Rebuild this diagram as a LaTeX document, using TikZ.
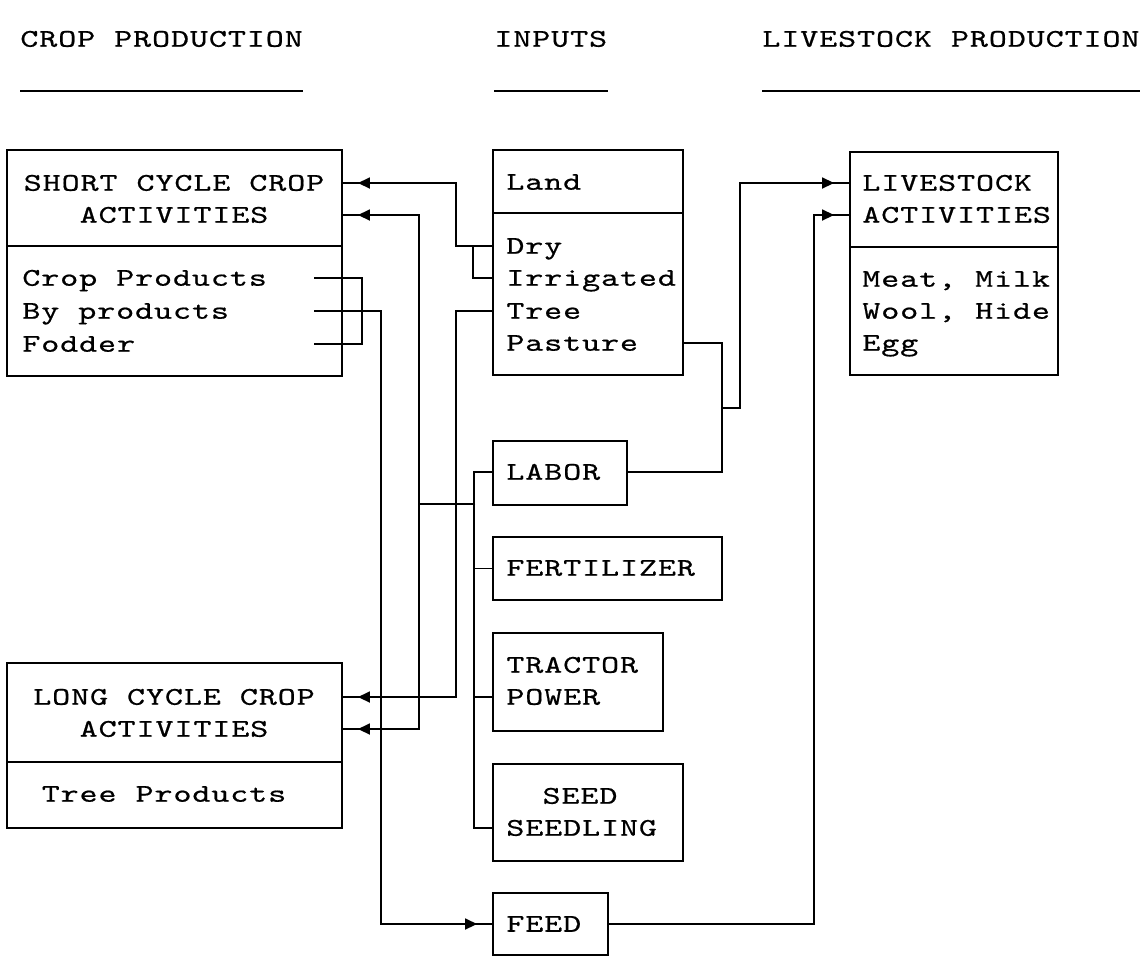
\documentclass[tikz,border=0pt]{standalone}
\usepackage{fontspec}
\setmonofont{lmmono10-regular.otf}[FakeStretch=1.35,LetterSpace=3.5,FakeBold=0.6]
\usetikzlibrary{arrows.meta,decorations.markings,fit,calc}

\tikzset{
  box/.style={draw, line width=1.1pt, inner sep=0pt},
  txt/.style={inner sep=0pt, text height=8.8pt, text depth=0pt,
    font=\ttfamily\fontsize{14.5}{18}\selectfont},
  line/.style={line width=1pt},
  arr/.style={line, postaction={decorate}, decoration={markings,
    mark=at position -0.3cm with {\arrow{Triangle[length=0.24cm,width=0.22cm]}}}},
}

\begin{document}
\begin{tikzpicture}[x=0.02cm, y=-0.02cm]
  \useasboundingbox (0,0) rectangle (1148,957);
  % headings
  \node[txt, anchor=west] (hcrop) at (20,39) {CROP PRODUCTION};
  \node[txt, anchor=west] (hin) at (494,39) {INPUTS};
  \node[txt, anchor=west] (hlive) at (762,39) {LIVESTOCK PRODUCTION};
  \foreach \h in {hcrop,hin,hlive}
    \draw[line] ([yshift=-1.04cm]\h.west) -- ([yshift=-1.04cm]\h.east);

  % crop production
  \node[box, fit={(7,150) (342,246)}] (sc) {};
  \node[box, fit={(7,246) (342,376)}] (scb) {};
  \node[txt] (scl1) at (174,183) {SHORT CYCLE CROP};
  \node[txt] (scl2) at (174,215) {ACTIVITIES};
  \node[txt, anchor=west] (cprod) at (22,278) {Crop Products};
  \node[txt, anchor=west] (byprod) at (22,311) {By products};
  \node[txt, anchor=west] (fodder) at (22,344) {Fodder};

  \node[box, fit={(7,663) (342,762)}] (lc) {};
  \node[box, fit={(7,762) (342,828)}] (lcb) {};
  \node[txt] (lcl1) at (174,697) {LONG CYCLE CROP};
  \node[txt] (lcl2) at (174,729) {ACTIVITIES};
  \node[txt] (treep) at (164,794) {Tree Products};

  % inputs
  \node[box, fit={(493,150) (683,213)}] (land) {};
  \node[box, fit={(493,213) (683,375)}] (landb) {};
  \node[txt, anchor=west] (landl) at (506,182) {Land};
  \node[txt, anchor=west] (dry) at (506,246) {Dry};
  \node[txt, anchor=west] (irr) at (506,278) {Irrigated};
  \node[txt, anchor=west] (tree) at (506,311) {Tree};
  \node[txt, anchor=west] (past) at (506,343) {Pasture};
  \node[box, fit={(493,441) (627,505)}] (labor) {};
  \node[txt, anchor=west] (laborl) at (506,472) {LABOR};
  \node[box, fit={(493,537) (722,600)}] (fert) {};
  \node[txt, anchor=west] (fertl) at (506,568) {FERTILIZER};
  \node[box, fit={(493,633) (663,731)}] (tract) {};
  \node[txt, anchor=west] (tractl1) at (506,665) {TRACTOR};
  \node[txt, anchor=west] (tractl2) at (506,697) {POWER};
  \node[box, fit={(493,764) (683,861)}] (seed) {};
  \node[txt] (seedl1) at (580,796) {SEED};
  \node[txt, anchor=west] (seedl2) at (506,828) {SEEDLING};
  \node[box, fit={(493,893) (608,955)}] (feed) {};
  \node[txt, anchor=west] (feedl) at (506,924) {FEED};

  % livestock production
  \node[box, fit={(850,152) (1058,247)}] (lv) {};
  \node[box, fit={(850,247) (1058,375)}] (lvb) {};
  \node[txt, anchor=west] (lvl1) at (862,183) {LIVESTOCK};
  \node[txt, anchor=west] (lvl2) at (862,215) {ACTIVITIES};
  \node[txt, anchor=west] (meat) at (862,279) {Meat, Milk};
  \node[txt, anchor=west] (wool) at (862,311) {Wool, Hide};
  \node[txt, anchor=west] (egg) at (862,343) {Egg};

  % connectors
  \coordinate (cpo) at (314,278);
  \coordinate (bpo) at (314,311);
  \coordinate (fdo) at (314,344);
  \coordinate (bus) at (475,504);
  \coordinate (pj) at (722,408);

  \draw[arr] (landb.west |- dry) -- ++(-36,0) |- (sc.east |- scl1);
  \draw[line] (landb.west |- irr) -- ++(-19,0) |- (landb.west |- dry);
  \draw[arr] (landb.west |- tree) -- ++(-36,0) |- (lc.east |- lcl1);
  \draw[line] (laborl -| labor.west) -- ++(-18,0) |- (seed.west |- seedl2);
  \draw[line] (fert.west) -- ++(-18,0);
  \draw[line] (tract.west |- tractl2) -- ++(-18,0);
  \draw[arr] (bus) -- ++(-56,0) |- (sc.east |- scl2);
  \draw[arr] (bus) -- ++(-56,0) |- (lc.east |- lcl2);
  \draw[line] (cpo) -- ++(48,0) |- (fdo);
  \draw[arr] (bpo) -- ++(67,0) |- (feed.west |- feedl);
  \draw[line] (landb.east |- past) -| (pj);
  \draw[line] (labor.east |- laborl) -| (pj);
  \draw[arr] (pj) -- ++(18,0) |- (lv.west |- lvl1);
  \draw[arr] (feed.east |- feedl) -- ++(205,0) |- (lv.west |- lvl2);
\end{tikzpicture}
\end{document}
